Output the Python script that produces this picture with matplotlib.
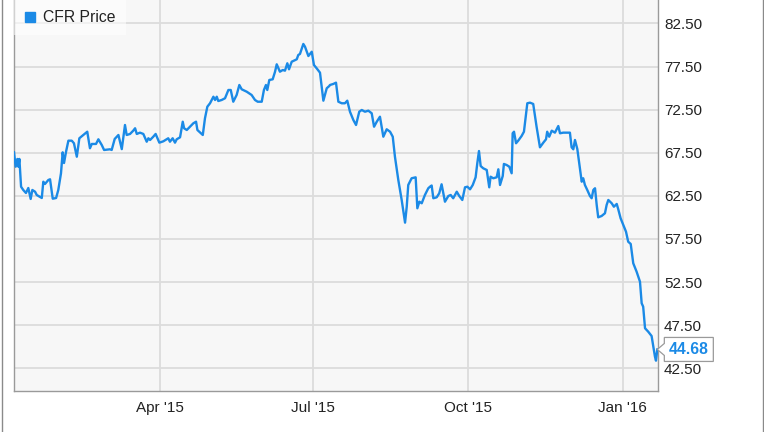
import matplotlib
matplotlib.use('Agg')
import matplotlib.pyplot as plt
import matplotlib.dates as mdates
import matplotlib.transforms as mtransforms
from matplotlib.lines import Line2D
from matplotlib.patches import Polygon
import numpy as np
import pandas as pd

plt.rcParams['font.family'] = ['Liberation Sans', 'DejaVu Sans']

# days since 2015-01-01 and closing price
days = [3.6, 4.6, 5.6, 6.2, 6.8, 7.8, 9.1, 10.7, 12.1, 13.5, 14.5, 16.1, 17.1, 20.1,
        21.0, 22.0, 24.0, 25.0, 26.6, 28.6, 29.9, 31.5, 32.5, 33.3, 34.5, 35.9, 37.9,
        39.2, 40.9, 42.4, 44.8, 47.1, 48.7, 49.8, 52.3, 53.7, 55.7, 57.1, 60.6, 61.6,
        63.4, 65.6, 67.6, 69.5, 70.5, 72.5, 74.4, 75.5, 76.5, 78.4, 80.4, 82.4, 83.4,
        84.4, 86.3, 87.7, 89.9, 92.3, 95.2, 96.2, 97.8, 99.2, 100.2, 102.2, 103.8,
        104.6, 106.2, 108.1, 110.1, 111.7, 112.5, 115.7, 117.0, 118.4, 120.0, 122.0,
        123.0, 124.0, 124.9, 126.9, 128.9, 130.9, 132.3, 133.8, 135.8, 137.4, 138.8,
        141.8, 144.7, 146.7, 148.3, 150.7, 152.0, 153.2, 154.0, 155.2, 157.2, 158.6,
        159.6, 161.5, 163.2, 164.5, 165.9, 166.9, 168.5, 171.5, 172.4, 173.4, 175.4,
        176.4, 178.4, 180.4, 181.7, 183.3, 185.3, 187.3, 189.3, 190.8, 191.2, 193.2,
        194.8, 196.2, 198.2, 200.1, 201.5, 203.1, 205.1, 206.7, 208.6, 210.1, 212.0,
        214.0, 216.0, 217.4, 219.0, 220.9, 222.9, 224.9, 226.9, 228.5, 229.8, 231.8,
        233.8, 235.8, 236.8, 237.7, 239.7, 242.1, 243.1, 244.3, 245.7, 247.6, 249.6,
        250.6, 251.6, 252.6, 254.6, 256.1, 257.5, 259.5, 261.5, 262.9, 264.4, 266.5,
        268.0, 269.8, 271.4, 272.8, 274.4, 276.0, 277.7, 278.7, 279.7, 280.7, 282.2,
        284.3, 285.8, 286.6, 288.2, 290.2, 291.2, 292.2, 293.8, 294.5, 296.1, 297.7,
        299.1, 299.7, 300.5, 301.7, 303.0, 305.0, 306.4, 308.4, 310.0, 311.9, 313.9,
        315.9, 317.9, 319.5, 320.2, 321.4, 322.9, 324.8, 326.8, 327.8, 329.7, 333.7,
        334.7, 335.7, 336.7, 338.1, 339.2, 340.7, 341.6, 342.6, 344.0, 345.6, 346.6,
        347.6, 348.6, 349.6, 350.5, 352.5, 354.5, 355.5, 356.5, 358.5, 359.8, 361.5,
        362.4, 363.8, 365.4, 367.0, 368.3, 369.8, 371.3, 373.3, 375.3, 376.3, 377.2,
        378.3, 380.2, 382.2, 384.2, 384.8, 385.6]
price = [67.55, 65.88, 66.78, 65.88, 66.78, 63.56, 63.18, 62.83, 63.41, 62.14, 63.18,
         62.98, 62.60, 62.25, 64.14, 63.88, 64.34, 64.42, 62.17, 62.25, 63.18, 65.12,
         67.55, 66.31, 67.62, 68.90, 68.90, 68.60, 67.04, 69.18, 69.56, 69.94, 68.02,
         68.52, 68.52, 69.06, 68.40, 67.82, 67.90, 67.82, 69.10, 69.56, 67.92, 70.72,
         69.56, 69.68, 70.06, 70.34, 69.68, 69.83, 69.68, 68.78, 69.18, 68.98, 69.36,
         69.68, 68.67, 68.83, 69.18, 68.78, 69.18, 68.67, 69.06, 69.29, 71.10, 70.34,
         70.14, 70.52, 70.92, 71.10, 70.14, 69.56, 71.50, 72.84, 73.24, 74.00, 73.62,
         74.00, 73.50, 73.62, 73.82, 74.78, 74.78, 73.42, 74.20, 75.36, 74.86, 74.58,
         74.20, 73.62, 73.42, 73.42, 74.78, 75.36, 74.78, 75.94, 76.02, 76.90, 77.76,
         76.90, 77.10, 77.02, 77.88, 77.18, 78.06, 78.34, 78.84, 78.96, 80.12, 79.80,
         78.72, 79.22, 77.68, 77.30, 76.79, 73.54, 74.98, 75.24, 75.36, 75.48, 75.63,
         73.42, 73.24, 73.24, 73.54, 72.26, 71.30, 70.72, 72.26, 72.46, 72.26, 72.38,
         72.08, 70.52, 71.10, 71.68, 69.36, 70.22, 69.94, 69.36, 67.04, 64.34, 62.02,
         59.39, 61.24, 63.76, 64.54, 64.65, 61.06, 61.82, 61.64, 62.60, 63.38, 63.56,
         63.70, 62.22, 62.33, 62.80, 63.84, 61.82, 62.48, 62.60, 62.22, 62.98, 62.48,
         62.02, 63.49, 63.56, 63.26, 63.76, 64.65, 66.28, 67.70, 65.96, 65.70, 65.50,
         63.49, 64.72, 64.54, 64.65, 65.58, 63.76, 64.80, 66.20, 66.08, 65.88, 65.12,
         69.76, 69.94, 68.60, 68.90, 69.44, 69.94, 73.24, 73.31, 73.16, 70.52, 68.13,
         68.67, 69.06, 69.94, 69.36, 70.06, 69.83, 70.60, 69.76, 69.83, 69.83, 68.13,
         67.90, 68.98, 67.92, 66.28, 64.14, 64.54, 63.76, 63.18, 62.48, 62.22, 63.18,
         63.38, 61.44, 60.01, 60.16, 60.48, 61.44, 62.02, 61.64, 61.24, 61.56, 60.94,
         59.90, 59.12, 58.34, 57.18, 56.92, 54.68, 53.70, 52.54, 50.04, 49.64, 47.14,
         46.74, 46.24, 43.84, 43.38, 44.68]
y_ticks = [42.5, 47.5, 52.5, 57.5, 62.5, 67.5, 72.5, 77.5, 82.5]
series_name = 'CFR Price'
last_label = '44.68'

line_color = '#1b8ae6'
base = pd.Timestamp('2015-01-01')
dates = base + pd.to_timedelta(days, unit='D')

fig = plt.figure(figsize=(7.64, 4.32), dpi=100)
fig.patch.set_facecolor('white')
ax = fig.add_axes([14 / 764, 41 / 432, 644 / 764, 391 / 432])
ax.set_facecolor('#f7f7f7')

ax.plot(dates, price, color=line_color, lw=1.7, solid_joinstyle='round', zorder=3)

ax.set_xlim(base + pd.Timedelta(days=3.6), base + pd.Timedelta(days=386.0))
ax.set_ylim(39.86, 85.22)

ax.xaxis.set_major_locator(mdates.MonthLocator(bymonth=[1, 4, 7, 10]))
ax.xaxis.set_major_formatter(mdates.DateFormatter("%b '%y"))
ax.yaxis.tick_right()
ax.set_yticks(y_ticks)
ax.set_yticklabels([f'{v:.2f}' for v in y_ticks])
ax.tick_params(axis='y', length=0, pad=4.3, labelsize=11, labelcolor='#222222')
ax.tick_params(axis='x', length=0, pad=7, labelsize=11, labelcolor='#222222')

ax.grid(True, color='#dcdcdc', lw=1.3)
ax.set_axisbelow(True)
for side in ['left', 'bottom', 'right']:
    ax.spines[side].set_color('#9a9a9a')
    ax.spines[side].set_linewidth(1.0)
ax.spines['top'].set_visible(False)

handle = Line2D([], [], marker='s', linestyle='none', color=line_color, markersize=7.5)
leg = ax.legend([handle], [series_name], loc='upper left', bbox_to_anchor=(0, 1),
                borderaxespad=0, fontsize=11.3, frameon=True, fancybox=False,
                facecolor='white', framealpha=0.55, edgecolor='none',
                handlelength=0.8, handletextpad=0.4, borderpad=0.65)
for t in leg.get_texts():
    t.set_color('#222222')

# last value callout
last_x = mdates.date2num(dates[-1].to_pydatetime())
trans = fig.dpi_scale_trans + mtransforms.ScaledTranslation(last_x, price[-1], ax.transData)
px = 1 / 100
callout = Polygon([(0, 0), (7 * px, 6 * px), (7 * px, 12 * px), (56 * px, 12 * px),
                   (56 * px, -12 * px), (7 * px, -12 * px), (7 * px, -6 * px)],
                  closed=True, transform=trans, facecolor='white', edgecolor='#9a9a9a',
                  lw=0.9, clip_on=False, zorder=5)
ax.add_patch(callout)
ax.text(31 * px, 0, last_label, transform=trans, ha='center', va='center',
        fontsize=11.3, fontweight='bold', color=line_color, zorder=6)

for xf in [1.5 / 764, 762.5 / 764]:
    fig.add_artist(Line2D([xf, xf], [0, 1], transform=fig.transFigure, color='#8a8a8a', lw=1))

fig.savefig('out.png', dpi=100)
